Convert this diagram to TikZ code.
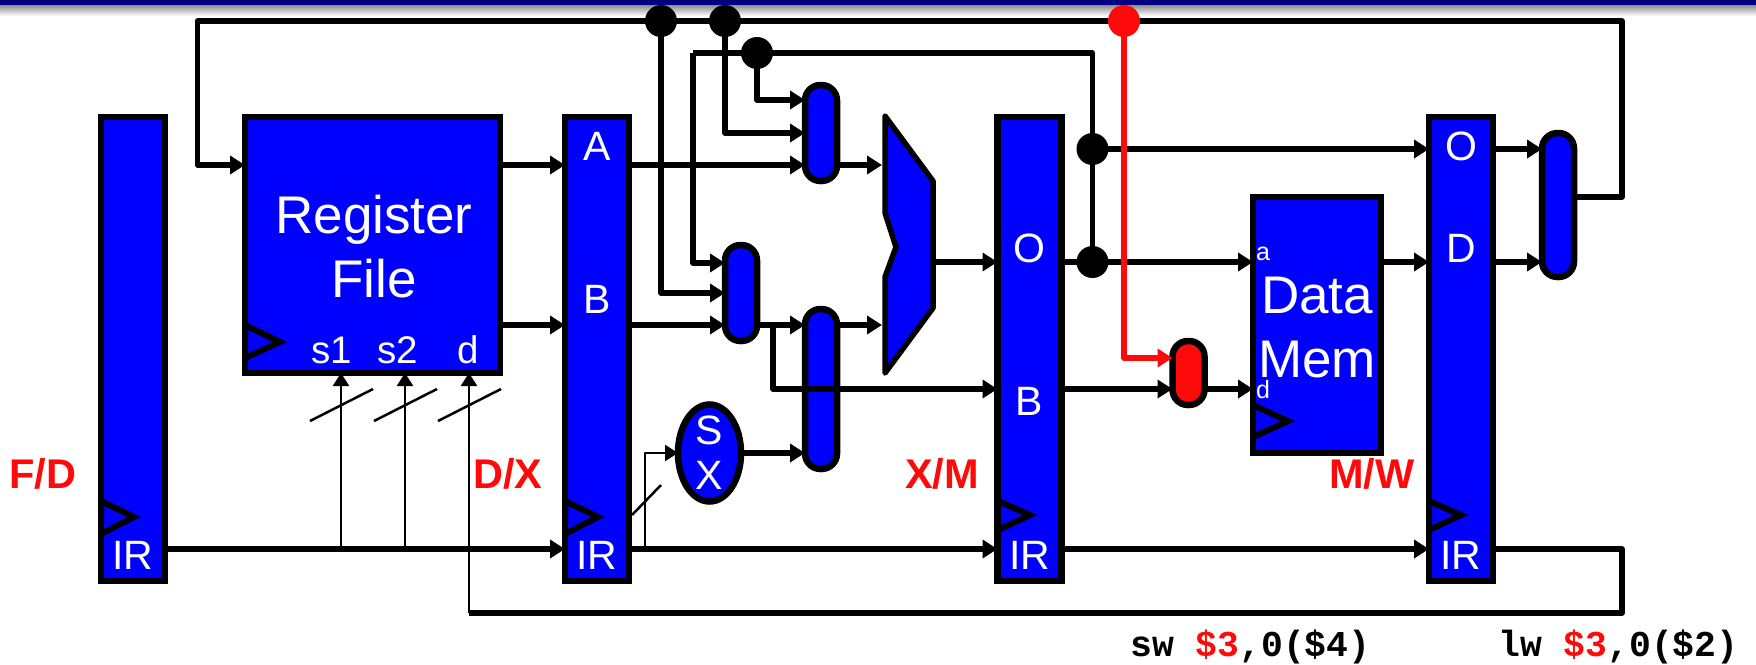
\documentclass[tikz,border=0pt]{standalone}
\usepackage{fontspec}
\setmainfont{Liberation Sans}
\newfontfamily\codefont{Liberation Mono}
\usetikzlibrary{arrows.meta,shapes.geometric}
\pgfdeclarelayer{front}
\pgfsetlayers{main,front}
\definecolor{regblue}{RGB}{0,0,255}
\definecolor{hotred}{RGB}{255,10,10}
\definecolor{bannernavy}{RGB}{0,0,128}
\tikzset{
  blk/.style={draw=black,fill=regblue,line width=6.5pt,inner sep=0pt,outer sep=0pt,rectangle},
  reg/.style={blk,minimum width=64pt,minimum height=464pt},
  muxbox/.style={blk,minimum width=32pt,rounded corners=15.5pt},
  dot/.style={circle,fill=black,inner sep=0pt,minimum size=32pt},
  wire/.style={line width=5.5pt,line join=round,line cap=butt},
  awire/.style={wire,-{Triangle[length=15pt,width=18pt]}},
  twire/.style={line width=2.5pt,line join=round},
  atwire/.style={twire,-{Triangle[length=13pt,width=16pt]}},
  clk/.style={line width=6pt,line join=miter,fill=regblue},
  lab/.style={text=white,inner sep=0pt,anchor=base,font=\fontsize{41}{41}\selectfont},
  seltext/.style={text=white,inner sep=0pt,anchor=base,font=\fontsize{38.5}{38.5}\selectfont},
  biglab/.style={text=white,inner sep=0pt,anchor=base,font=\fontsize{53}{53}\selectfont},
  tiny/.style={text=white,inner sep=0pt,anchor=base,font=\fontsize{25}{25}\selectfont},
  stage/.style={text=hotred,inner sep=0pt,anchor=base,font=\fontsize{41.5}{41.5}\selectfont\bfseries},
  code/.style={text=black,inner sep=0pt,anchor=base west,font=\fontsize{36.4}{36.4}\selectfont\codefont\bfseries},
}
\begin{document}
\begin{tikzpicture}[x=1pt,y=-1pt]
\useasboundingbox (0,0) rectangle (1756,664);
\fill[bannernavy] (0,0) rectangle (1756,5);
\shade[top color=black!45,bottom color=white] (0,5) rectangle (1756,16);
% registers
\node[reg] (fd) at (133,349) {};
\node[reg] (dx) at (597,349) {};
\node[reg] (xm) at (1029.5,349) {};
\node[reg] (mw) at (1461,349) {};
% big blocks
\node[blk,minimum width=255pt,minimum height=256pt] (rf) at (372.5,245) {};
\node[blk,minimum width=128pt,minimum height=256pt] (dm) at (1317,325) {};
% muxes
\node[muxbox,minimum height=96pt] (ma) at (821,133) {};
\node[muxbox,minimum height=96pt] (mb) at (741,293) {};
\node[muxbox,minimum height=160pt] (mc) at (821,389) {};
\node[muxbox,minimum height=144pt] (md) at (1558,205) {};
\node[muxbox,minimum height=64pt,fill=hotred] (me) at (1188.5,373) {};
\node[blk,shape=ellipse,minimum width=63pt,minimum height=97pt] (sx) at (709.5,453) {};
% ALU
\draw[line width=5.5pt,line join=round,fill=regblue] (885,116) -- (933,181) -- (933,308) -- (885,373) -- (885,277) -- (896,247) -- (885,213) -- cycle;
\coordinate (aluw) at (882,247);
\coordinate (alue) at (936,247);
% clock triangles
\draw[clk] (101,501) -- (134,517) -- (101,534) -- cycle;
\draw[clk] (565,501) -- (598,517) -- (565,534) -- cycle;
\draw[clk] (998,501) -- (1030,515) -- (998,530) -- cycle;
\draw[clk] (1429,501) -- (1461,515) -- (1429,530) -- cycle;
\draw[clk] (245,325) -- (280,342) -- (245,358) -- cycle;
\draw[clk] (1253,405) -- (1288,421) -- (1253,437) -- cycle;
% labels
\node[biglab] (t1) at (374,233) {Register};
\node[biglab] (t2) at (374,297) {File};
\node[seltext] (s1) at (332,363) {s1};
\node[seltext] (s2) at (398,363) {s2};
\node[seltext] (sd) at (468,363) {d};
\node[lab] (irf) at (133,569) {IR};
\node[lab] (a) at (597,160) {A};
\node[lab] (b) at (597,313) {B};
\node[lab] (irx) at (597,569) {IR};
\node[lab] (ox) at (1029.5,262) {O};
\node[lab] (bm) at (1029.5,415) {B};
\node[lab] (irm) at (1029.5,569) {IR};
\node[lab] (ow) at (1461,160) {O};
\node[lab] (dw) at (1461,262) {D};
\node[lab] (irw) at (1461,569) {IR};
\node[lab] (sxs) at (709,444) {S};
\node[lab] (sxx) at (709,489) {X};
\node[biglab] (dm1) at (1317,313) {Data};
\node[biglab] (dm2) at (1317,377) {Mem};
\node[tiny] (pa) at (1263,260) {a};
\node[tiny] (pd) at (1263,398) {d};
\node[stage] (l1) at (43,488) {F/D};
\node[stage] (l2) at (508,488) {D/X};
\node[stage] (l3) at (942,488) {X/M};
\node[stage] (l4) at (1372,488) {M/W};
\node[code] (c1) at (1130,656) {sw {\color{hotred}\$3},0(\$4)};
\node[code] (c2) at (1498,656) {lw {\color{hotred}\$3},0(\$2)};
% dots on the front layer
\begin{pgfonlayer}{front}
\node[dot] (d1) at (661,21) {};
\node[dot] (d2) at (725,21) {};
\node[dot] (d3) at (757,53) {};
\node[dot] (d4) at (1092.5,149) {};
\node[dot] (d5) at (1092.5,262) {};
\draw[wire,hotred,-{Triangle[length=15pt,width=18pt]}] (1124,21) |- (me.west |- 0,358);
\node[dot,fill=hotred] (d6) at (1124,21) {};
\end{pgfonlayer}
\coordinate (top) at (1622,21);
\coordinate (bot) at (1622,613);
\coordinate (tap1) at (341,549);
\coordinate (tap2) at (405,549);
\coordinate (tap3) at (469,613);
\coordinate (tap4) at (645,549);
\coordinate (busl) at (197.5,21);
\coordinate (midl) at (693,53);
\coordinate (midr) at (1092.5,53);
\coordinate (br) at (773,326);
% write-back loop
\draw[awire] (md.east |- 0,197) -| (top) -- (busl) |- (rf.west |- 0,165);
% register file outputs
\draw[awire] (rf.east |- 0,165) -- (dx.west |- 0,165);
\draw[awire] (rf.east |- 0,325) -- (dx.west |- 0,325);
% mux a
\draw[awire] (dx.east |- 0,165) -- (ma.west |- 0,165);
\draw[awire] (d2.center) |- (ma.west |- 0,133);
\draw[awire] (d3.center) |- (ma.west |- 0,100);
\draw[awire] (ma.east |- 0,165) -- (aluw |- 0,165);
% mux b
\draw[wire] (midl) -- (midr) -- (d5.center);
\draw[awire] (midl) |- (mb.west |- 0,263);
\draw[awire] (d1.center) |- (mb.west |- 0,293);
\draw[awire] (dx.east |- 0,325) -- (mb.west |- 0,325);
\draw[awire] (mb.east |- 0,325) -- (mc.west |- 0,325);
\draw[awire] (br) |- (xm.west |- 0,389);
\draw[awire] (mc.east |- 0,325) -- (aluw |- 0,325);
% sign extend
\draw[awire] (sx.east) -- (mc.west |- sx.east);
\draw[atwire] (tap4) |- (sx.west);
\draw[twire] (632,515) -- (661,485);
% ALU out
\draw[awire] (alue |- 0,262) -- (xm.west |- 0,262);
\draw[awire] (xm.east |- 0,262) -- (dm.west |- 0,262);
\draw[awire] (d4.center) -- (mw.west |- d4);
% memory
\draw[awire] (xm.east |- 0,389) -- (me.west |- 0,389);
\draw[awire] (me.east |- 0,389) -- (dm.west |- 0,389);
\draw[awire] (dm.east |- 0,262) -- (mw.west |- 0,262);
\draw[awire] (mw.east |- 0,149) -- (md.west |- 0,149);
\draw[awire] (mw.east |- 0,262) -- (md.west |- 0,262);
% IR chain
\draw[awire] (fd.east |- 0,549) -- (dx.west |- 0,549);
\draw[awire] (dx.east |- 0,549) -- (xm.west |- 0,549);
\draw[awire] (xm.east |- 0,549) -- (mw.west |- 0,549);
\draw[wire] (mw.east |- 0,549) -| (bot) -- (tap3);
% register selectors
\draw[atwire] (tap1) -- (tap1 |- rf.south);
\draw[atwire] (tap2) -- (tap2 |- rf.south);
\draw[atwire] (tap3) -- (tap3 |- rf.south);
\draw[twire] (310,421) -- (373,389);
\draw[twire] (374,421) -- (437,389);
\draw[twire] (438,421) -- (501,389);
\end{tikzpicture}
\end{document}
